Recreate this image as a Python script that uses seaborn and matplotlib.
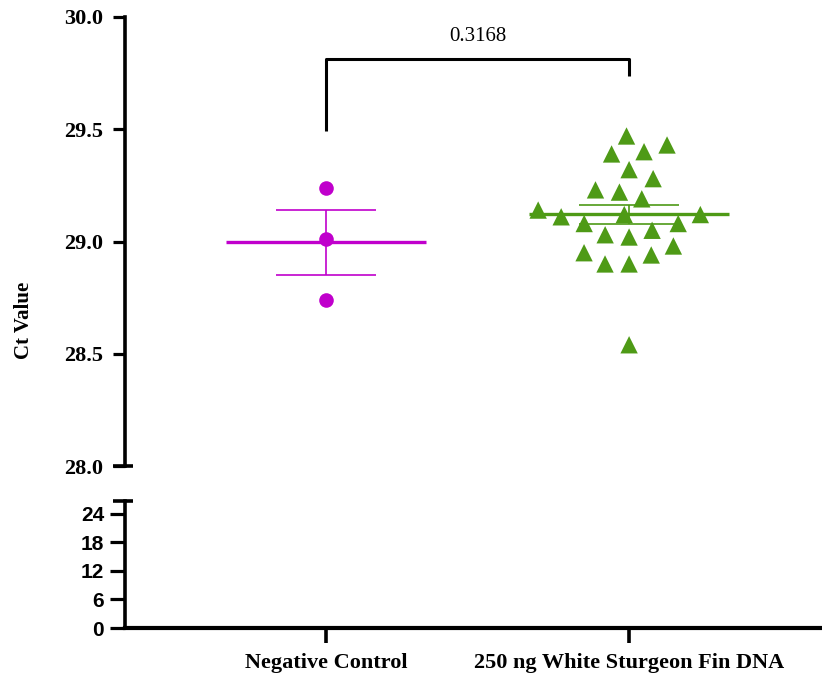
import numpy as np
import pandas as pd
import matplotlib
matplotlib.use("Agg")
import matplotlib.pyplot as plt
import matplotlib.transforms as mtransforms
import seaborn as sns

# ---- data ----
categories = ["Negative Control", "250 ng White Sturgeon Fin DNA"]
neg_ct = [29.24, 29.01, 28.74]
fin_ct = [29.47, 29.39, 29.40, 29.43, 29.32, 29.28, 29.22, 29.23,
          29.19, 29.08, 29.12, 29.12, 29.11, 29.14, 29.08, 29.05,
          29.03, 29.02, 28.98, 28.95, 28.94, 28.90, 28.90, 28.54]
p_text = "0.3168"
upper_ticks = [28.0, 28.5, 29.0, 29.5, 30.0]
lower_ticks = [0, 6, 12, 18, 24]

colors = {"Negative Control": "#C000CC", "250 ng White Sturgeon Fin DNA": "#4E9A16"}
markers = {"Negative Control": "o", "250 ng White Sturgeon Fin DNA": "^"}

df = pd.DataFrame({
    "group": [categories[0]] * len(neg_ct) + [categories[1]] * len(fin_ct),
    "ct": neg_ct + fin_ct,
})

sns.set_theme(style="white")
plt.rcParams["font.family"] = ["Liberation Serif", "DejaVu Serif"]

fig = plt.figure(figsize=(8.22, 6.74), dpi=100)
W, H = 822, 674
left = 125 / W
width = 1 - left
ax_top = fig.add_axes([left, 1 - 466 / H, width, (466 - 17) / H])
ax_bot = fig.add_axes([left, 1 - 628 / H, width, (628 - 501) / H], sharex=ax_top)

for ax in (ax_top, ax_bot):
    ax.set_facecolor("white")

# points (invisible edge widens the swarm spacing like the original)
sizes = {"Negative Control": 10.5, "250 ng White Sturgeon Fin DNA": 12.5}
spacing = {"Negative Control": 0, "250 ng White Sturgeon Fin DNA": 4.0}
for cat in categories:
    sub = df[df["group"] == cat]
    sns.swarmplot(data=sub, x="group", y="ct", order=categories, ax=ax_top,
                  color=colors[cat], marker=markers[cat], size=sizes[cat],
                  linewidth=spacing[cat], zorder=3, warn_thresh=1)
    ax_top.collections[-1].set_edgecolor("none")

# mean and SEM
for i, cat in enumerate(categories):
    vals = np.asarray(df.loc[df["group"] == cat, "ct"])
    m = vals.mean()
    sem = vals.std(ddof=1) / np.sqrt(len(vals))
    ax_top.hlines(m, i - 0.33, i + 0.33, color=colors[cat], lw=2.4, zorder=2.5)
    ax_top.errorbar(i, m, yerr=sem, fmt="none", ecolor=colors[cat],
                    elinewidth=1.2, capsize=36, capthick=1.2, zorder=2.5)

# significance bracket
y_bar = 29.813
ax_top.plot([0, 0, 1, 1], [29.49, y_bar, y_bar, 29.735], color="black",
            lw=2.2, solid_capstyle="butt", zorder=5, clip_on=False)
ax_top.text(0.5, 29.87, p_text, ha="center", va="bottom", fontsize=15,
            color="black")

# axes limits
ax_top.set_xlim(-0.662, 1.636)
ax_top.set_ylim(28.0, 30.0)
ax_bot.set_ylim(0, 26.7)

# upper axes styling
for s in ("top", "right", "bottom"):
    ax_top.spines[s].set_visible(False)
ax_top.spines["left"].set_linewidth(2.6)
ax_top.spines["left"].set_color("black")
ax_top.set_yticks(upper_ticks)
ax_top.set_yticklabels([f"{t:.1f}" for t in upper_ticks])
ax_top.tick_params(axis="y", left=True, direction="out", length=9, width=2.3,
                   pad=7, labelsize=16, colors="black")
for lab in ax_top.get_yticklabels():
    lab.set_fontweight("bold")
ax_top.tick_params(axis="x", bottom=False, labelbottom=False)
ax_top.set_xlabel("")
ax_top.set_ylabel("")

# lower axes styling
for s in ("top", "right"):
    ax_bot.spines[s].set_visible(False)
ax_bot.spines["left"].set_linewidth(2.6)
ax_bot.spines["bottom"].set_linewidth(3.0)
ax_bot.spines["left"].set_color("black")
ax_bot.spines["bottom"].set_color("black")
ax_bot.set_yticks(lower_ticks)
ax_bot.set_yticklabels([str(t) for t in lower_ticks],
                       fontfamily="Liberation Sans", fontweight="bold")
ax_bot.tick_params(axis="y", left=True, direction="out", length=11, width=2.3,
                   pad=4, labelsize=15, colors="black")
ax_bot.set_xticks(range(len(categories)))
ax_bot.set_xticklabels(categories, fontweight="bold")
ax_bot.tick_params(axis="x", bottom=True, direction="out", length=11,
                   width=2.6, pad=7, labelsize=16, colors="black")
ax_bot.set_xlabel("")
ax_bot.set_ylabel("")

# break caps
tr_top = mtransforms.blended_transform_factory(ax_top.transAxes, ax_top.transData)
cap = 12 / (W * width)
ax_top.plot([-cap, cap * 0.7], [28.0, 28.0], color="black", lw=2.6,
            transform=tr_top, clip_on=False, solid_capstyle="butt")
ax_bot.plot([-cap, cap * 0.7], [1, 1], color="black", lw=2.6,
            transform=ax_bot.transAxes, clip_on=False, solid_capstyle="butt")

fig.text(24 / W, 1 - 320 / H, "Ct Value", rotation=90, ha="center",
         va="center", fontsize=15, fontweight="bold", color="black")

fig.savefig("out.png", dpi=100, facecolor="white")
